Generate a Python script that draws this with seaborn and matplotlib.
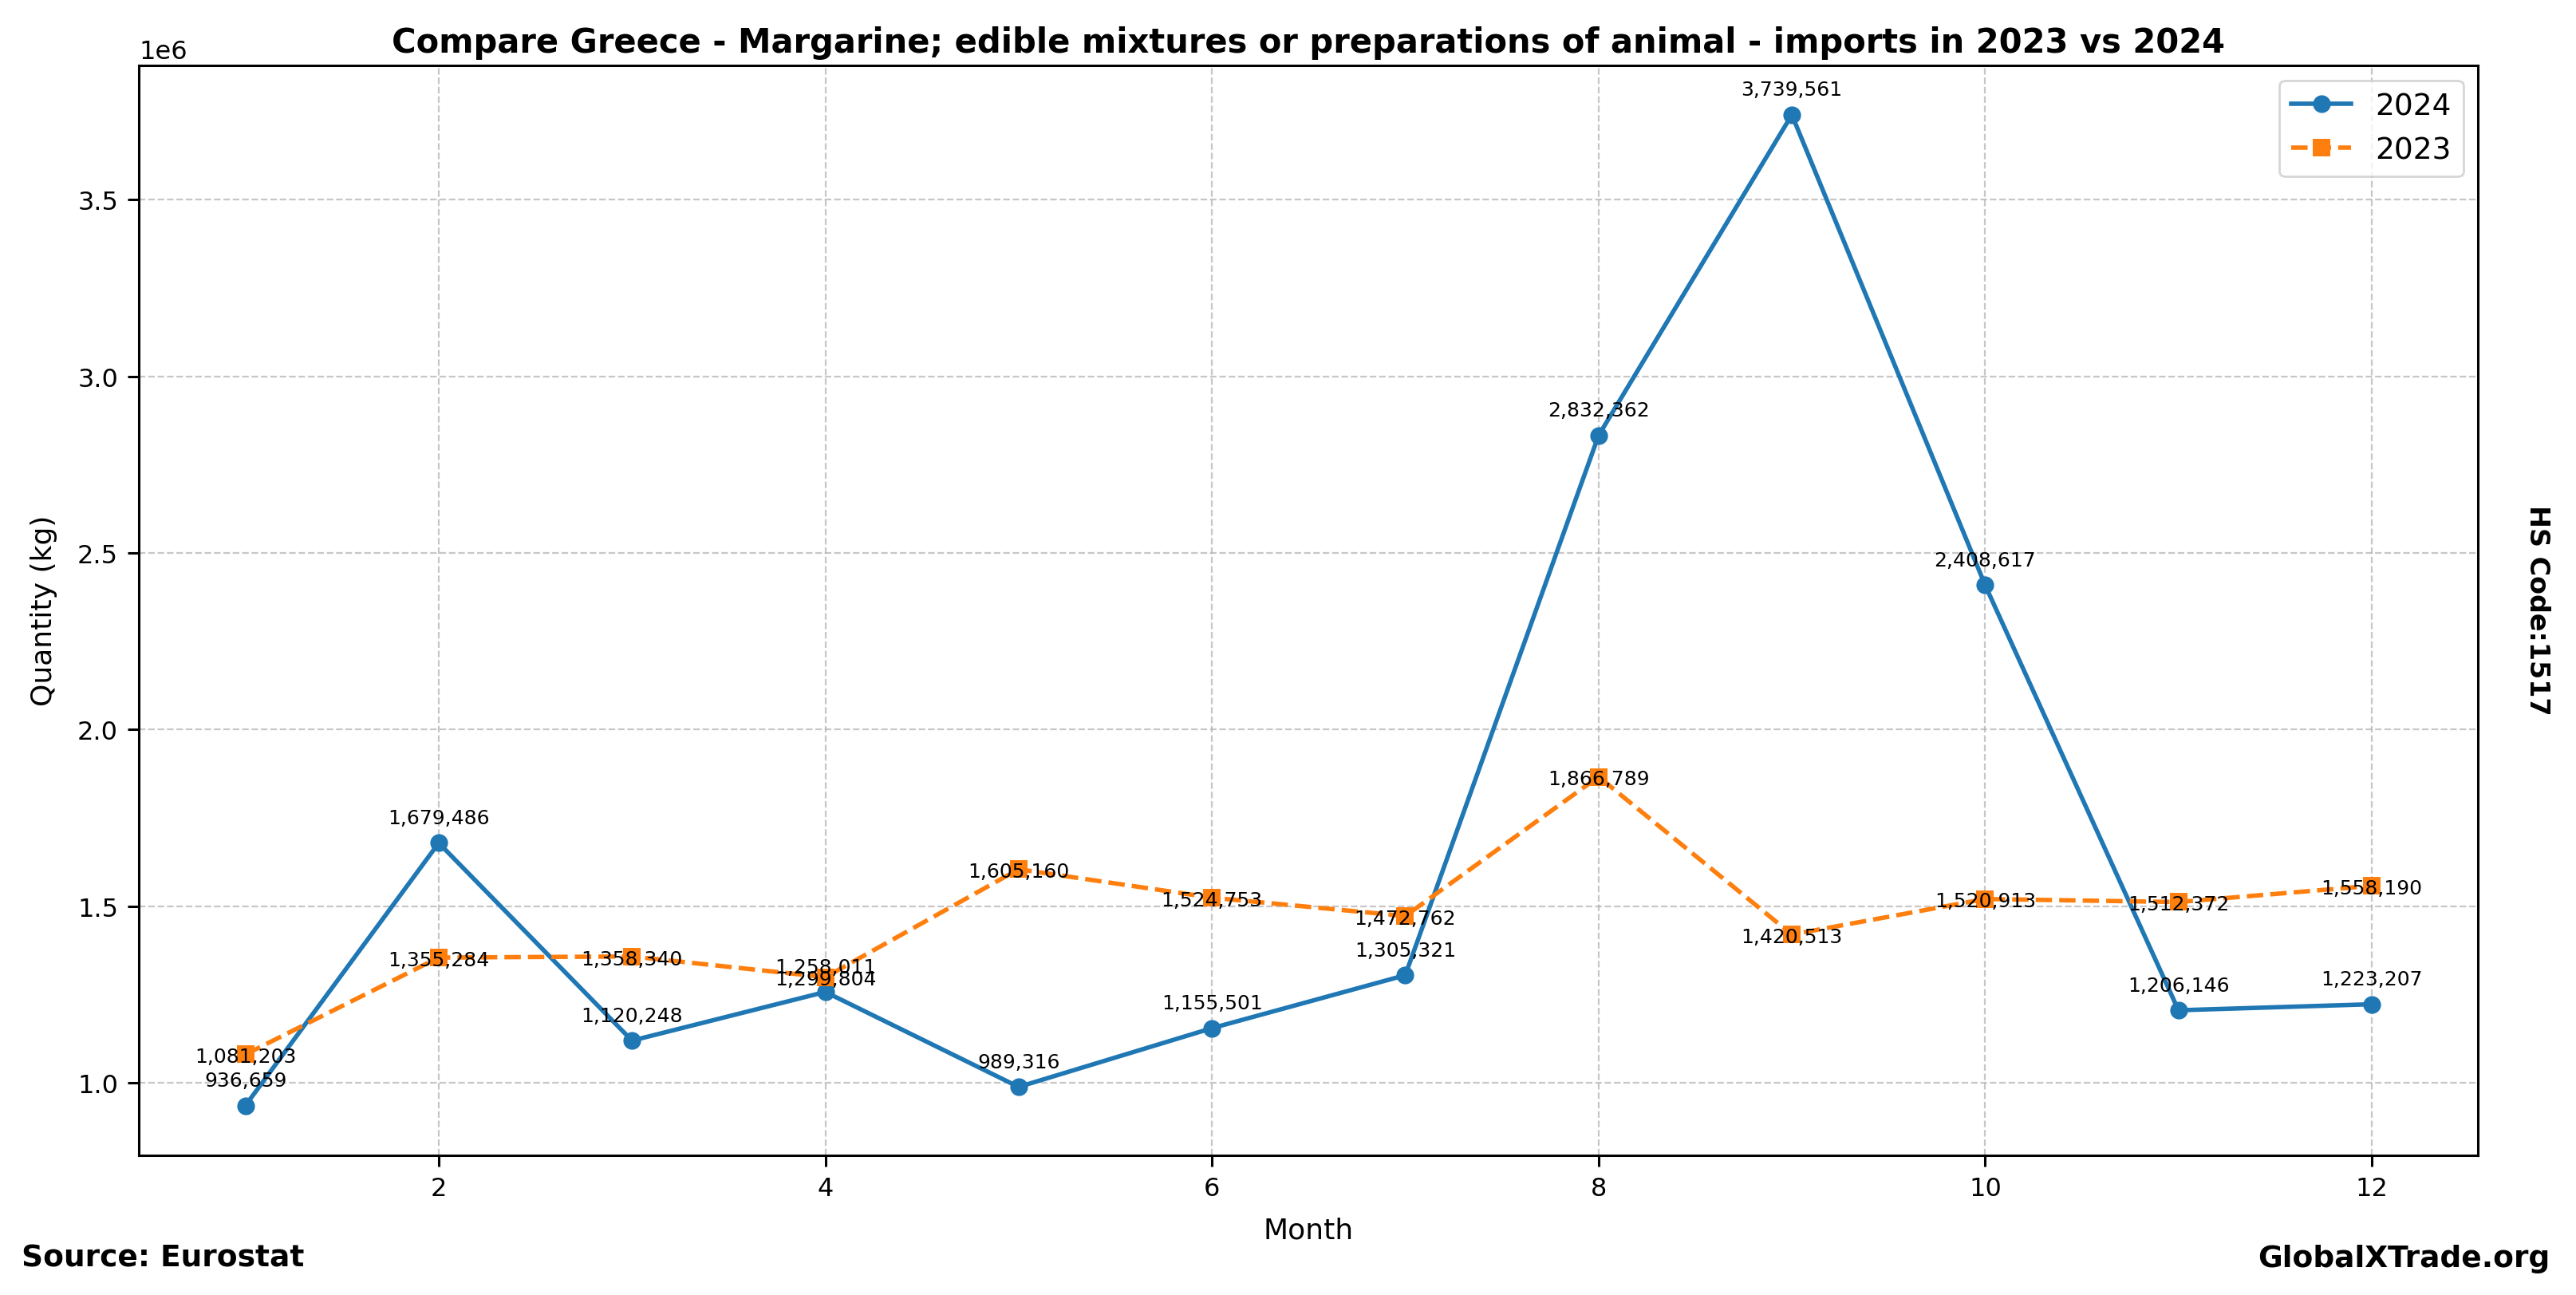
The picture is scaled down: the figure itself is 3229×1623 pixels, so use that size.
import numpy as np
import matplotlib
matplotlib.use("Agg")
import matplotlib.pyplot as plt
import seaborn as sns
import pandas as pd

# data
months = [1, 2, 3, 4, 5, 6, 7, 8, 9, 10, 11, 12]
qty_2024 = [936659, 1679486, 1120248, 1258011, 989316, 1155501,
            1305321, 2832362, 3739561, 2408617, 1206146, 1223207]
qty_2023 = [1081203, 1355284, 1358340, 1299804, 1605160, 1524753,
            1472762, 1866789, 1420513, 1520913, 1512372, 1558190]

df24 = pd.DataFrame({"Month": months, "Quantity": qty_2024})
df23 = pd.DataFrame({"Month": months, "Quantity": qty_2023})

fig = plt.figure(figsize=(16.145, 8.12), dpi=200)
ax = fig.add_axes([0.054, 0.108, 0.908, 0.841])

sns.lineplot(data=df24, x="Month", y="Quantity", marker="o", markersize=8,
             markeredgewidth=0, color="#1f77b4", linewidth=2, label="2024", ax=ax)
sns.lineplot(data=df23, x="Month", y="Quantity", marker="s", markersize=8,
             markeredgewidth=0, color="#ff7f0e", linewidth=2, linestyle="--",
             label="2023", ax=ax)

#   value labels
for m, v in zip(months, qty_2024):
    ax.annotate(f"{v:,}", (m, v), xytext=(0, 7), textcoords="offset points",
                ha="center", va="bottom", fontsize=9)
for m, v in zip(months, qty_2023):
    ax.annotate(f"{v:,}", (m, v), xytext=(0, -1), textcoords="offset points",
                ha="center", va="center", fontsize=9)

ax.set_title("Compare Greece - Margarine; edible mixtures or preparations of animal - imports in 2023 vs 2024",
             fontsize=15, fontweight="bold")
ax.set_xlabel("Month", fontsize=13, labelpad=7)
ax.set_ylabel("Quantity (kg)", fontsize=13, labelpad=9)
ax.tick_params(labelsize=11.5, length=5, width=1.1, pad=4.5)
for s in ax.spines.values():
    s.set_linewidth(1.1)
ax.yaxis.get_offset_text().set_fontsize(11.5)
ax.grid(True, linestyle="--", alpha=0.7)
ax.legend(fontsize=13.5, loc="upper right")

fig.text(0.985, 0.529, "HS Code:1517", rotation=270, fontsize=12, fontweight="bold",
         ha="center", va="center")
fig.text(0.0083, 0.0286, "Source: Eurostat", fontsize=13.5, fontweight="bold",
         ha="left", va="center")
fig.text(0.990, 0.0286, "GlobalXTrade.org", fontsize=13.5, fontweight="bold",
         ha="right", va="center")

fig.savefig("out.png", dpi=200)
